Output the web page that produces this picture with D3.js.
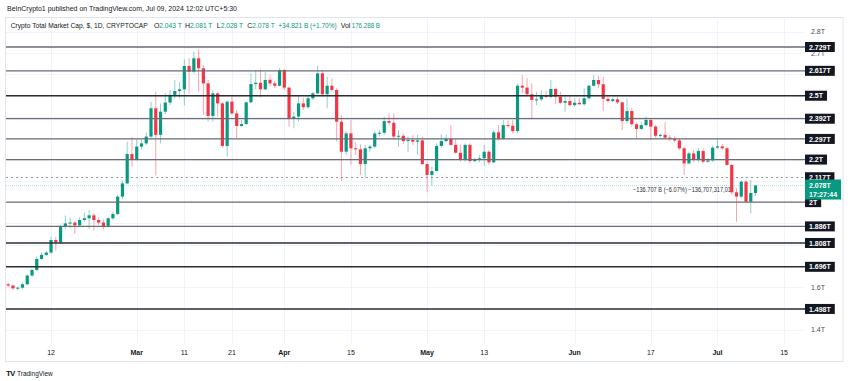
<!DOCTYPE html>
<html><head><meta charset="utf-8">
<script src="https://cdn.jsdelivr.net/npm/d3@7"></script>
<style>
body{margin:0;background:#fff;}
svg{display:block;font-family:"Liberation Sans",Arial,sans-serif;}
</style>
</head><body>
<svg id="c" width="850" height="381"></svg>
<script>
// ---------- DATA ----------
const firstDay = "2024-02-03";   // daily candles, consecutive days
const opens = [1.614,1.608,1.595,1.598,1.614,1.655,1.681,1.733,1.752,1.763,1.822,1.811,1.888,1.900,1.904,1.891,1.916,1.924,1.938,1.916,1.904,1.888,1.924,1.944,2.026,2.088,2.226,2.201,2.261,2.276,2.308,2.441,2.316,2.425,2.468,2.504,2.522,2.530,2.640,2.613,2.676,2.629,2.558,2.405,2.511,2.464,2.264,2.472,2.417,2.358,2.367,2.469,2.555,2.561,2.530,2.575,2.558,2.547,2.621,2.538,2.394,2.402,2.464,2.446,2.488,2.511,2.605,2.507,2.547,2.527,2.378,2.237,2.323,2.253,2.248,2.179,2.253,2.261,2.323,2.326,2.381,2.373,2.308,2.312,2.287,2.292,2.284,2.290,2.179,2.128,2.146,2.264,2.287,2.297,2.269,2.232,2.198,2.269,2.193,2.198,2.206,2.237,2.187,2.328,2.297,2.362,2.359,2.334,2.547,2.538,2.507,2.480,2.483,2.500,2.494,2.532,2.496,2.467,2.475,2.456,2.467,2.460,2.488,2.547,2.574,2.554,2.485,2.475,2.483,2.469,2.381,2.428,2.366,2.344,2.362,2.386,2.355,2.312,2.316,2.303,2.297,2.290,2.253,2.182,2.229,2.198,2.240,2.190,2.196,2.256,2.262,2.253,2.175,2.046,2.026,2.096,2.002,2.043];
const highs = [1.622,1.611,1.603,1.622,1.661,1.689,1.744,1.763,1.770,1.838,1.835,1.893,1.937,1.927,1.908,1.929,1.951,1.963,1.947,1.927,1.919,1.929,1.955,2.034,2.101,2.284,2.305,2.295,2.292,2.327,2.472,2.519,2.464,2.511,2.527,2.574,2.566,2.671,2.676,2.707,2.718,2.645,2.574,2.527,2.519,2.472,2.480,2.504,2.433,2.386,2.472,2.605,2.621,2.624,2.613,2.597,2.569,2.629,2.626,2.543,2.425,2.503,2.491,2.503,2.519,2.641,2.621,2.590,2.582,2.535,2.409,2.334,2.386,2.281,2.272,2.269,2.269,2.334,2.339,2.402,2.417,2.417,2.339,2.323,2.308,2.316,2.316,2.308,2.190,2.167,2.276,2.319,2.316,2.362,2.300,2.269,2.276,2.276,2.209,2.221,2.269,2.245,2.339,2.362,2.386,2.386,2.386,2.558,2.597,2.582,2.558,2.519,2.527,2.522,2.574,2.538,2.519,2.496,2.500,2.488,2.488,2.535,2.550,2.597,2.594,2.590,2.496,2.491,2.496,2.472,2.488,2.441,2.375,2.378,2.402,2.394,2.362,2.323,2.375,2.316,2.308,2.300,2.261,2.237,2.245,2.253,2.253,2.206,2.265,2.297,2.272,2.261,2.178,2.065,2.104,2.104,2.104,2.081];
const lows = [1.601,1.587,1.584,1.590,1.608,1.647,1.677,1.728,1.747,1.756,1.772,1.803,1.872,1.877,1.850,1.885,1.908,1.874,1.866,1.893,1.872,1.882,1.916,1.940,2.013,2.085,2.167,2.195,2.248,2.269,2.298,2.125,2.276,2.414,2.457,2.488,2.488,2.455,2.511,2.605,2.519,2.410,2.378,2.378,2.402,2.258,2.214,2.410,2.300,2.352,2.363,2.464,2.530,2.493,2.527,2.543,2.535,2.543,2.527,2.355,2.347,2.378,2.433,2.438,2.480,2.507,2.496,2.441,2.519,2.284,2.099,2.221,2.175,2.221,2.128,2.115,2.237,2.253,2.308,2.316,2.362,2.292,2.261,2.272,2.234,2.269,2.221,2.175,2.046,2.077,2.143,2.256,2.281,2.265,2.229,2.190,2.190,2.182,2.187,2.187,2.171,2.175,2.182,2.287,2.292,2.350,2.323,2.323,2.511,2.496,2.394,2.456,2.475,2.488,2.488,2.460,2.460,2.425,2.449,2.449,2.456,2.453,2.480,2.543,2.535,2.428,2.469,2.469,2.460,2.339,2.370,2.355,2.300,2.339,2.355,2.292,2.303,2.303,2.297,2.287,2.281,2.245,2.128,2.178,2.187,2.187,2.182,2.185,2.190,2.250,2.245,2.171,2.037,1.908,2.018,1.999,1.947,2.028];
const closes = [1.608,1.595,1.598,1.614,1.655,1.681,1.733,1.752,1.763,1.822,1.811,1.888,1.900,1.904,1.891,1.916,1.924,1.938,1.916,1.904,1.888,1.924,1.944,2.026,2.088,2.226,2.201,2.261,2.276,2.308,2.441,2.316,2.425,2.468,2.504,2.522,2.530,2.640,2.613,2.676,2.629,2.558,2.405,2.511,2.464,2.264,2.472,2.417,2.358,2.367,2.469,2.555,2.561,2.530,2.574,2.558,2.547,2.621,2.538,2.394,2.402,2.464,2.446,2.488,2.511,2.605,2.507,2.547,2.527,2.378,2.237,2.323,2.253,2.248,2.179,2.253,2.261,2.323,2.326,2.381,2.373,2.308,2.312,2.287,2.292,2.284,2.290,2.179,2.128,2.146,2.264,2.287,2.297,2.269,2.232,2.198,2.269,2.193,2.198,2.206,2.237,2.187,2.328,2.297,2.362,2.359,2.334,2.547,2.538,2.507,2.480,2.483,2.500,2.494,2.532,2.496,2.467,2.475,2.456,2.467,2.460,2.488,2.547,2.574,2.554,2.485,2.475,2.483,2.469,2.381,2.428,2.366,2.344,2.362,2.386,2.355,2.312,2.316,2.303,2.297,2.290,2.253,2.182,2.229,2.198,2.240,2.190,2.196,2.256,2.262,2.253,2.175,2.046,2.026,2.096,2.002,2.043,2.078];

const levelValues = [2.729, 2.617, 2.5, 2.392, 2.297, 2.2, 2.0, 1.886, 1.808, 1.696, 1.498];
const levelLabels = ["2.729T","2.617T","2.5T","2.392T","2.297T","2.2T","2T","1.886T","1.808T","1.696T","1.498T"];
const dashedLevel = 2.117, dashedLabel = "2.117T";
const lastPrice = 2.078, lastLabel = "2.078T", countdown = "17:27:44";
// price-axis labels that are not covered by the level labels
const axisValues = [1.4, 1.6, 2.7, 2.8];
const axisLabels = ["1.4T","1.6T","2.7T","2.8T"];
const gridValues = [1.4,1.5,1.6,1.7,1.8,1.9,2.0,2.1,2.2,2.3,2.4,2.5,2.6,2.7,2.8];
const dateTicks = ["2024-02-12","2024-03-01","2024-03-11","2024-03-21","2024-04-01","2024-04-15","2024-05-01","2024-05-13","2024-06-01","2024-06-17","2024-07-01","2024-07-15"];
const dateTickLabels = ["12","Mar","11","21","Apr","15","May","13","Jun","17","Jul","15"];
const measureText = "\u2212136.707 B (\u22126.07%) \u2212136,707,317,01";

// ---------- STYLE ----------
const UP = "#089981", DOWN = "#f23645";
const darkLevels = new Set([2.5, 1.808, 1.696, 1.498]);
const svg = d3.select("#c");
const FS = 7;

const parse = d3.utcParse("%Y-%m-%d");
const d0 = parse(firstDay);
const candles = opens.map((o,i)=>({date:d3.utcDay.offset(d0,i), o, h:highs[i], l:lows[i], c:closes[i]}));

const x = d3.scaleUtc().domain([d0, parse("2024-07-15")]).range([8.2, 784.1]);
const y = d3.scaleLinear().domain([1.4, 2.8]).range([329.8, 31.9]);

// header
svg.append("text").attr("x",7).attr("y",11).attr("font-size",FS).attr("fill","#131722")
  .attr("textLength",230).attr("lengthAdjust","spacingAndGlyphs")
  .text("BeInCrypto1 published on TradingView.com, Jul 09, 2024 12:02 UTC+5:30");

// frame
svg.append("rect").attr("x",5.5).attr("y",17.5).attr("width",837.5).attr("height",344)
  .attr("fill","none").attr("stroke","#e0e3eb");

// grid
const gridG = svg.append("g").attr("stroke","#f0f3fa").attr("stroke-width",1);
gridG.selectAll("line.v").data(dateTicks).join("line")
  .attr("x1",d=>Math.round(x(parse(d)))+0.5).attr("x2",d=>Math.round(x(parse(d)))+0.5)
  .attr("y1",18).attr("y2",343);
gridG.selectAll("line.h").data(gridValues).join("line")
  .attr("x1",6).attr("x2",803)
  .attr("y1",d=>Math.round(y(d))+0.5).attr("y2",d=>Math.round(y(d))+0.5);

// legend
const legendParts = [
  [10.7,"Crypto Total Market Cap, $, 1D, CRYPTOCAP","#131722",137],
  [154,"O","#131722",0],[159.3,"2.043 T",UP,22.4],
  [185,"H","#131722",0],[190,"2.081 T",UP,22.4],
  [216.7,"L","#131722",0],[220.7,"2.028 T",UP,22.4],
  [247.3,"C","#131722",0],[252.3,"2.078 T",UP,22.4],
  [278.3,"+34.821 B (+1.70%)",UP,58.4],
  [340.7,"Vol","#131722",0],[351.7,"176.288 B",UP,28.3]
];
legendParts.forEach(p=>{
  const t = svg.append("text").attr("x",p[0]).attr("y",28).attr("font-size",FS).attr("fill",p[2]).text(p[1]);
  if(p[3]) t.attr("textLength",p[3]).attr("lengthAdjust","spacingAndGlyphs");
});

// axis labels (right)
svg.append("g").selectAll("text").data(axisValues).join("text")
  .attr("x",811).attr("y",d=>y(d)+2.5).attr("font-size",FS).attr("fill","#4a4e59")
  .text((d,i)=>axisLabels[i]);

// x labels
svg.append("g").selectAll("text").data(dateTicks).join("text")
  .attr("x",d=>x(parse(d))).attr("y",355).attr("text-anchor","middle")
  .attr("font-size",FS).attr("fill","#131722")
  .attr("font-weight",(d,i)=>isNaN(+dateTickLabels[i])?"bold":"normal")
  .text((d,i)=>dateTickLabels[i]);

// last price line (behind)
svg.append("line").attr("x1",6).attr("x2",805).attr("y1",y(lastPrice)).attr("y2",y(lastPrice))
  .attr("stroke","#b9e3dc").attr("stroke-width",1).attr("stroke-dasharray","1,1");
// dashed level
svg.append("line").attr("x1",6).attr("x2",805).attr("y1",Math.round(y(dashedLevel))+0.5).attr("y2",Math.round(y(dashedLevel))+0.5)
  .attr("stroke","#9598a1").attr("stroke-width",1).attr("stroke-dasharray","2,3");

// measurement text
svg.append("text").attr("x",633).attr("y",192).attr("font-size",6.5).attr("fill","#2a2e39")
  .attr("textLength",98).attr("lengthAdjust","spacingAndGlyphs").text(measureText);

// candles
const bw = 3.2;
const cg = svg.append("g");
cg.selectAll("line").data(candles).join("line")
  .attr("x1",d=>x(d.date)).attr("x2",d=>x(d.date))
  .attr("y1",d=>y(d.h)).attr("y2",d=>y(d.l))
  .attr("stroke",d=>d.c>=d.o?UP:DOWN).attr("stroke-opacity",0.45).attr("stroke-width",1);
cg.selectAll("rect").data(candles).join("rect")
  .attr("x",d=>x(d.date)-bw/2).attr("width",bw)
  .attr("y",d=>y(Math.max(d.o,d.c)))
  .attr("height",d=>Math.max(1,Math.abs(y(d.o)-y(d.c))))
  .attr("fill",d=>d.c>=d.o?UP:DOWN);

// horizontal levels
const lvG = svg.append("g");
lvG.selectAll("line").data(levelValues).join("line")
  .attr("x1",6).attr("x2",805)
  .attr("y1",d=>y(d)).attr("y2",d=>y(d))
  .attr("stroke",d=>darkLevels.has(d)?"#2a2e39":"#6a6d78")
  .attr("stroke-width",d=>darkLevels.has(d)?1.6:1.3);

// boxes
function box(v,label,fill){
  const g = svg.append("g");
  const t = g.append("text").attr("x",809).attr("y",y(v)+2.6).attr("font-size",FS)
    .attr("fill","#fff").attr("font-weight","bold").text(label);
  const w = t.node().getComputedTextLength();
  g.insert("rect","text").attr("x",805).attr("y",y(v)-5).attr("width",w+8).attr("height",10).attr("fill",fill);
}
levelValues.forEach((v,i)=>box(v,levelLabels[i],"#131722"));
box(dashedLevel,dashedLabel,"#131722");
// last price label
const lp = svg.append("g");
lp.append("rect").attr("x",805).attr("y",y(lastPrice)-6).attr("width",36).attr("height",20).attr("fill",UP);
lp.append("text").attr("x",809).attr("y",y(lastPrice)+2.5).attr("font-size",FS).attr("fill","#fff").attr("font-weight","bold").text(lastLabel);
lp.append("text").attr("x",809).attr("y",y(lastPrice)+11).attr("font-size",FS).attr("fill","#fff").attr("font-weight","bold").text(countdown);

// TradingView logo
svg.append("text").attr("x",6).attr("y",376).attr("font-size",8).attr("font-weight","bold").attr("fill","#131722").attr("letter-spacing",-0.8).text("TV");
svg.append("text").attr("x",17).attr("y",376).attr("font-size",6.5).attr("fill","#131722").text("TradingView");
</script>
</body></html>
